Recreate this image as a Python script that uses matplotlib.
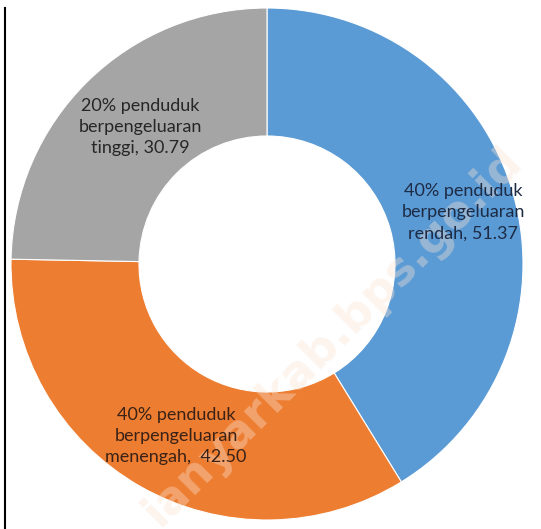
import matplotlib
matplotlib.use("Agg")
import matplotlib.pyplot as plt

# ---- data ----
groups = ["40% penduduk\nberpengeluaran\nrendah,", "40% penduduk\nberpengeluaran\nmenengah, ", "20% penduduk\nberpengeluaran\ntinggi,"]
values = [51.37, 42.50, 30.79]
colors = ["#5B9BD5", "#ED7D31", "#A5A5A5"]
text_colors = ["#1d2b45", "#3a2216", "#262626"]

W, H = 541, 529
fig = plt.figure(figsize=(W / 100, H / 100), dpi=100)
ax = fig.add_axes([0, 0, 1, 1])
ax.set_xlim(0, W)
ax.set_ylim(0, H)
ax.set_aspect("equal")
ax.axis("off")

cx, cy, R = 267, H - 264, 256
wedges, _ = ax.pie(values, colors=colors, startangle=90, counterclock=False,
                   center=(cx, cy), radius=R,
                   wedgeprops=dict(width=R * 0.5, edgecolor="white", linewidth=0.8))
ax.set_xlim(0, W)
ax.set_ylim(0, H)

# label positions (pixel coords from top-left)
label_pos = [(463, 212), (176, 436), (140, 127)]
for (lx, ly), g, v, tc in zip(label_pos, groups, values, text_colors):
    ax.text(lx, H - ly, f"{g} {v:.2f}", ha="center", va="center", fontsize=13,
            family="Lato", color=tc, linespacing=1.4, zorder=10)

# left border line
ax.plot([5, 5], [0, H - 8], color="black", lw=1.5)

# watermark (cut off at the bottom edge, as in the source)
ax.text(333, H - 337, "ianyarkab.bps.go.id", rotation=45, ha="center", va="center",
        fontsize=33, fontweight="bold", family="DejaVu Sans", color="#FBE3D3",
        alpha=0.38, zorder=5)

fig.savefig("out.png", dpi=100)
